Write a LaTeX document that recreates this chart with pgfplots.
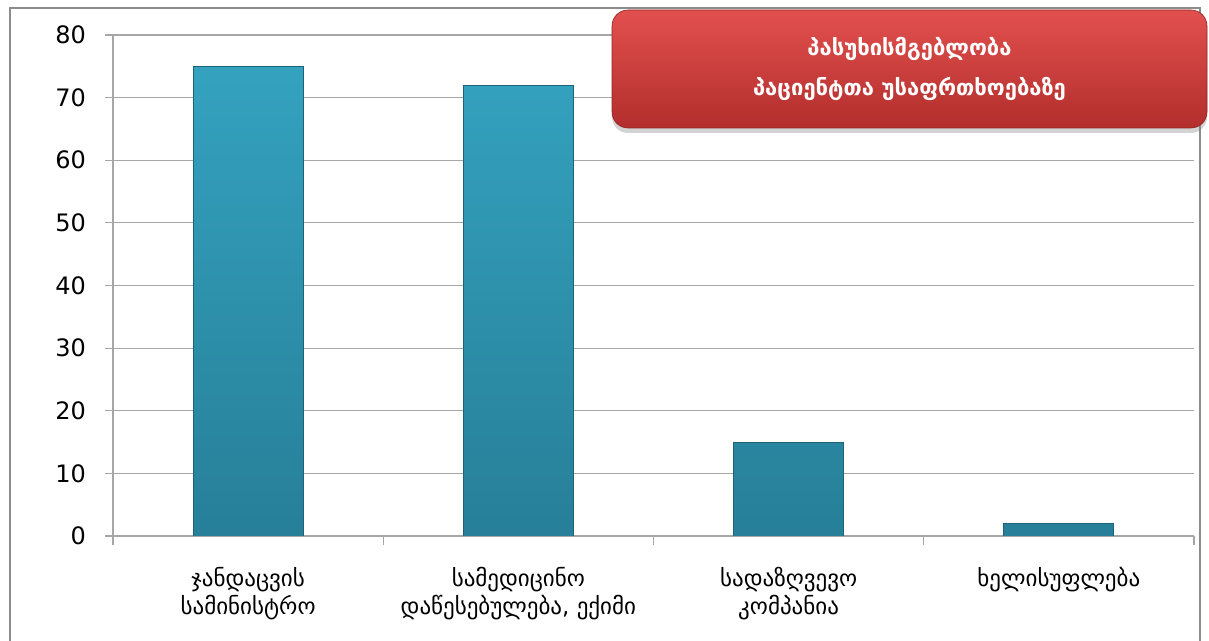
\documentclass[border=0pt]{standalone}
\usepackage{fontspec}
\setmainfont{DejaVu Sans}
\usepackage{pgfplots}
\pgfplotsset{compat=1.18}
\usetikzlibrary{shadows}
\definecolor{frameGrey}{HTML}{8C8C8C}
\definecolor{gridGrey}{HTML}{A6A6A6}
\definecolor{barTop}{HTML}{34A2BF}
\definecolor{barBottom}{HTML}{277F98}
\definecolor{barEdge}{HTML}{1D6377}
\definecolor{boxTop}{HTML}{E2504E}
\definecolor{boxBottom}{HTML}{B22E2C}

\begin{document}
\begin{tikzpicture}
\useasboundingbox (0,0) rectangle (604.5pt,320.5pt);
\draw[frameGrey, line width=0.8pt] (5pt,-10pt) rectangle (600pt,316.5pt);
\begin{axis}[
  at={(56.5pt,52.5pt)}, anchor=south west,
  width=540.5pt, height=250.5pt, scale only axis,
  xmin=-0.5, xmax=3.5, ymin=0, ymax=80,
  ytick={0,10,...,80},
  xtick={0,1,2,3},
  xticklabels={{ჯანდაცვის\\სამინისტრო}, {სამედიცინო\\დაწესებულება, ექიმი}, {სადაზღვევო\\კომპანია}, {ხელისუფლება}},
  minor xtick={-0.5,0.5,1.5,2.5,3.5},
  axis x line*=bottom, axis y line*=left,
  axis line style={gridGrey, line width=0.6pt},
  tick align=outside,
  major x tick style={draw=none},
  minor tick length=4.5pt, major tick length=4pt,
  tick style={gridGrey, line width=0.6pt},
  ymajorgrids, grid style={gridGrey, line width=0.6pt},
  yticklabel style={font=\fontsize{12}{14}\selectfont, xshift=-6pt},
  xticklabel style={font=\fontsize{11.5}{14}\selectfont, align=center, anchor=north, yshift=-8pt},
  /pgf/number format/assume math mode=true,
]
\addplot[ybar, bar width=55pt, draw=barEdge, line width=0.4pt,
  top color=barTop, bottom color=barBottom]
  coordinates {(0,75) (1,72) (2,15) (3,2)};
\end{axis}
\node[rounded corners=8pt, minimum width=297.5pt, minimum height=59pt,
  top color=boxTop, bottom color=boxBottom, draw=boxBottom!80!black, line width=0.3pt,
  drop shadow={opacity=0.35, shadow xshift=0pt, shadow yshift=-2.5pt},
  text=white, align=center, font=\bfseries\fontsize{11}{20}\selectfont]
  at (454.75pt,286pt) {პასუხისმგებლობა\\პაციენტთა უსაფრთხოებაზე};
\end{tikzpicture}
\end{document}
